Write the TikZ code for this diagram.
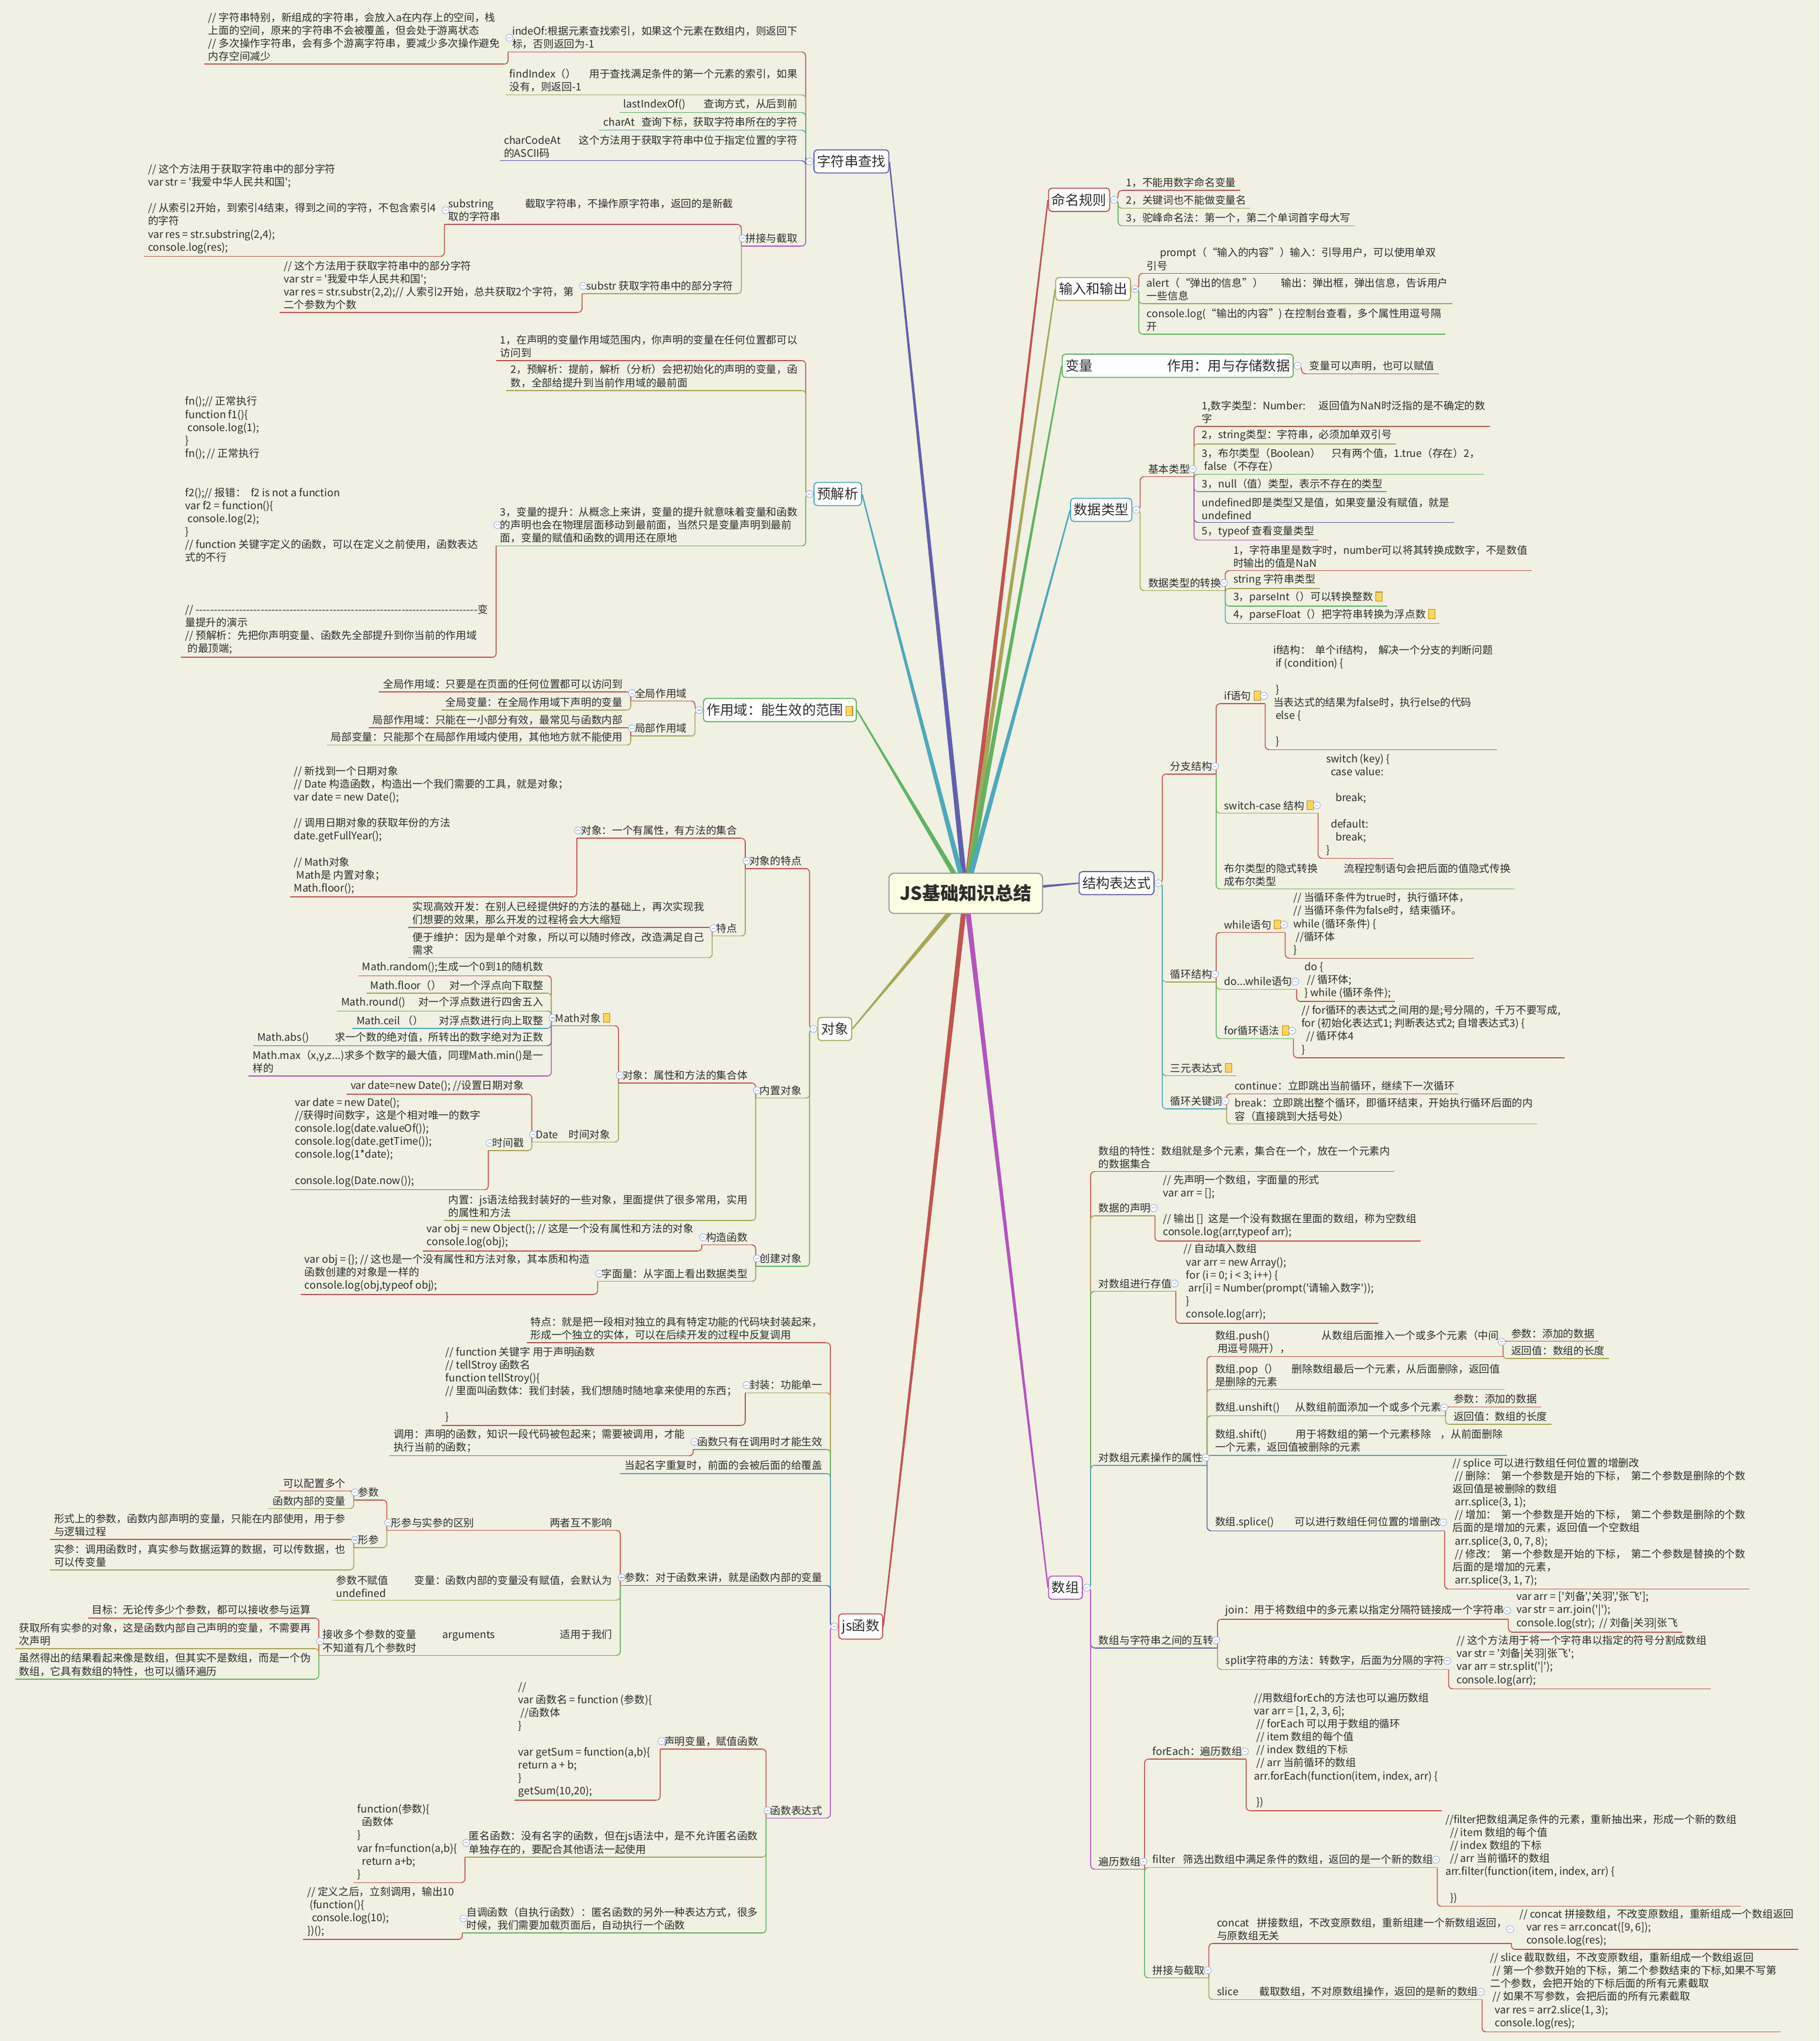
\documentclass[tikz,border=0pt]{standalone}
\usepackage{fontspec}
\setmainfont{Noto Sans CJK SC}[Ligatures=TeXOff]
\usetikzlibrary{calc}

\definecolor{paper}{RGB}{240,240,227}
\definecolor{ink}{RGB}{45,45,45}
\definecolor{lred}{RGB}{192,84,80}
\definecolor{lolive}{RGB}{168,165,88}
\definecolor{lgreen}{RGB}{98,178,98}
\definecolor{lteal}{RGB}{80,168,186}
\definecolor{lblue}{RGB}{96,96,172}
\definecolor{lpink}{RGB}{178,84,190}
\definecolor{foldblue}{RGB}{150,170,215}
\definecolor{noteyellow}{RGB}{250,215,90}
\definecolor{notebrown}{RGB}{190,140,40}
\definecolor{rootfill}{RGB}{252,252,226}
\definecolor{rootline}{RGB}{150,150,150}

\newcommand{\notemark}{\hspace{2pt}{\setlength{\fboxsep}{0pt}\setlength{\fboxrule}{0.5pt}\fcolorbox{notebrown}{noteyellow}{\rule{0pt}{6.5pt}\hspace{4.5pt}}}}

\tikzset{
  leaf/.style={font=\fontsize{8}{10}\selectfont, text=ink, align=left, inner xsep=3pt, inner ysep=2pt},
  leafL/.style={leaf, anchor=south east, xshift=-3pt},
  leafR/.style={leaf, anchor=south west, xshift=3pt},
  ul/.style={append after command={(\tikzlastnode.south west) edge[draw=#1, line width=0.7pt] (\tikzlastnode.south east)}},
  topic/.style={draw=#1, fill=white, rounded corners=2.5pt, line width=0.8pt, text=ink, font=\fontsize{10.5}{12}\selectfont, inner xsep=2.5pt, inner ysep=4pt},
  rootbox/.style={draw=rootline, fill=rootfill, rounded corners=4pt, line width=0.8pt, text=ink, font=\fontsize{14}{16}\selectfont\bfseries, minimum width=118pt, minimum height=31pt},
  link/.style={line width=0.7pt, rounded corners=3pt},
  fold/.pic={
    \draw[draw=foldblue, fill=white, line width=0.4pt] (0,0) circle (2.7pt);
    \draw[draw=foldblue, line width=0.5pt] (-1.4pt,0) -- (1.4pt,0);
  }
}

\begin{document}
\begin{tikzpicture}[x=1pt, y=-1pt]
\useasboundingbox (0,0) rectangle (1398,1568);
\fill[paper] (0,0) rectangle (1398,1568);
\coordinate (rc) at (742,686.3);

%字符串查找
\node[topic=lblue, anchor=west] (str) at (625,124) {字符串查找};
\node[leafL, ul=lred, xshift=-6pt] (str1) at (str.west |- 0,40) {indeOf:根据元素查找索引，如果这个元素在数组内，则返回下\\标，否则返回为-1};
\node[leafL, ul=lred] (str1a) at (str1.south west |- 0,49.3) {// 字符串特别，新组成的字符串，会放入a在内存上的空间，栈\\上面的空间，原来的字符串不会被覆盖，但会处于游离状态\\// 多次操作字符串，会有多个游离字符串，要减少多次操作避免\\内存空间减少};
\node[leafL, ul=lolive, xshift=-6pt] (str2) at (str.west |- 0,72.8) {findIndex（）\hspace{10pt}用于查找满足条件的第一个元素的索引，如果\\没有，则返回-1};
\node[leafL, ul=lgreen, xshift=-6pt] (str3) at (str.west |- 0,86.5) {lastIndexOf()\hspace{14pt}查询方式，从后到前};
\node[leafL, ul=lteal, xshift=-6pt] (str4) at (str.west |- 0,100) {charAt\hspace{5pt}查询下标，获取字符串所在的字符};
\node[leafL, ul=lblue, xshift=-6pt] (str5) at (str.west |- 0,123.5) {charCodeAt\hspace{14pt}这个方法用于获取字符串中位于指定位置的字符\\的ASCII码};
\node[leafL, ul=lpink, xshift=-6pt] (str6) at (str.west |- 0,189) {拼接与截取};
\node[leafL, ul=lred] (str6a) at (str6.south west |- 0,172.4) {substring\hspace{24pt}截取字符串，不操作原字符串，返回的是新截\\取的字符串};
\node[leafL, ul=lred] (str6a1) at (str6a.south west |- 0,197) {// 这个方法用于获取字符串中的部分字符\\var str = '我爱中华人民共和国';\\[10pt]// 从索引2开始，到索引4结束，得到之间的字符，不包含索引4\\的字符\\var res = str.substring(2,4);\\console.log(res);};
\node[leafL, ul=lolive] (str6b) at (str6.south west |- 0,225.6) {substr 获取字符串中的部分字符};
\node[leafL, ul=lred] (str6b1) at (str6b.south west |- 0,240) {// 这个方法用于获取字符串中的部分字符\\var str = '我爱中华人民共和国';\\var res = str.substr(2,2);// 人索引2开始，总共获取2个字符，第\\二个参数为个数};
\foreach \c/\k in {str1/lred, str2/lolive, str3/lgreen, str4/lteal, str5/lblue, str6/lpink}
  \draw[link, draw=\k] (str.west) -- ++(-6,0) |- (\c.south east);
\draw[link, draw=lred] (str1.south west) |- (str1a.south east);
\foreach \c/\k in {str6a/lred, str6b/lolive}
  \draw[link, draw=\k] (str6.south west) |- (\c.south east);
\draw[link, draw=lred] (str6a.south west) |- (str6a1.south east);
\draw[link, draw=lred] (str6b.south west) |- (str6b1.south east);

%预解析
\node[topic=lteal, anchor=west] (pre) at (625,379.5) {预解析};
\node[leafL, ul=lred, xshift=-6pt] (pre1) at (pre.west |- 0,277) {1，在声明的变量作用域范围内，你声明的变量在任何位置都可以\\访问到};
\node[leafL, ul=lolive, xshift=-6pt] (pre2) at (pre.west |- 0,300) {2，预解析：提前，解析（分析）会把初始化的声明的变量，函\\数，全部给提升到当前作用域的最前面};
\node[leafL, ul=lgreen, xshift=-6pt] (pre3) at (pre.west |- 0,419.4) {3，变量的提升：从概念上来讲，变量的提升就意味着变量和函数\\的声明也会在物理层面移动到最前面，当然只是变量声明到最前\\面，变量的赋值和函数的调用还在原地};
\node[leafL, ul=lred] (pre3a) at (pre3.south west |- 0,505) {fn();// 正常执行\\function f1()\{\\~console.log(1);\\\}\\fn(); // 正常执行\\[20pt]f2();// 报错：~~f2 is not a function\\var f2 = function()\{\\~console.log(2);\\\}\\// function 关键字定义的函数，可以在定义之前使用，函数表达\\式的不行\\[30pt]// ------------------------------------------------------------------------------变\\量提升的演示\\// 预解析：先把你声明变量、函数先全部提升到你当前的作用域\\~的最顶端;};
\foreach \c/\k in {pre1/lred, pre2/lolive, pre3/lgreen}
  \draw[link, draw=\k] (pre.west) -- ++(-6,0) |- (\c.south east);
\draw[link, draw=lred] (pre3.south west) |- (pre3a.south east);

%作用域
\node[topic=lgreen, anchor=west] (scope) at (540,545.5) {作用域：能生效的范围\notemark};
\node[leafL, ul=lred, xshift=-6pt] (scope1) at (scope.west |- 0,538.5) {全局作用域};
\node[leafL, ul=lred] (scope1a) at (scope1.south west |- 0,531.6) {全局作用域：只要是在页面的任何位置都可以访问到};
\node[leafL, ul=lolive] (scope1b) at (scope1.south west |- 0,545.4) {全局变量：在全局作用域下声明的变量};
\node[leafL, ul=lolive, xshift=-6pt] (scope2) at (scope.west |- 0,565.5) {局部作用域};
\node[leafL, ul=lred] (scope2a) at (scope2.south west |- 0,559) {局部作用域：只能在一小部分有效，最常见与函数内部};
\node[leafL, ul=lolive] (scope2b) at (scope2.south west |- 0,572.4) {局部变量：只能那个在局部作用域内使用，其他地方就不能使用};
\foreach \c/\k in {scope1/lred, scope2/lolive}
  \draw[link, draw=\k] (scope.west) -- ++(-6,0) |- (\c.south east);
\foreach \c/\k in {scope1a/lred, scope1b/lolive}
  \draw[link, draw=\k] (scope1.south west) |- (\c.south east);
\foreach \c/\k in {scope2a/lred, scope2b/lolive}
  \draw[link, draw=\k] (scope2.south west) |- (\c.south east);

%对象
\node[topic=lolive, anchor=west] (obj) at (628,790.5) {对象};
\node[leafL, ul=lred, xshift=-6pt] (obj1) at (obj.west |- 0,667.3) {对象的特点};
\node[leafL, ul=lred] (obj1a) at (obj1.south west |- 0,644) {对象：一个有属性，有方法的集合};
\node[leafL, ul=lred] (obj1a1) at (obj1a.south west |- 0,689) {// 新找到一个日期对象\\// Date 构造函数，构造出一个我们需要的工具，就是对象；\\var date = new Date();\\[10pt]// 调用日期对象的获取年份的方法\\date.getFullYear();\\[10pt]// Math对象\\~Math是 内置对象；\\Math.floor();};
\node[leafL, ul=lolive] (obj1b) at (obj1.south west |- 0,719) {特点};
\node[leafL, ul=lred] (obj1b1) at (obj1b.south west |- 0,712.5) {实现高效开发：在别人已经提供好的方法的基础上，再次实现我\\们想要的效果，那么开发的过程将会大大缩短};
\node[leafL, ul=lolive] (obj1b2) at (obj1b.south west |- 0,735.8) {便于维护：因为是单个对象，所以可以随时修改，改造满足自己\\需求};
\node[leafL, ul=lolive, xshift=-6pt] (obj2) at (obj.west |- 0,843.6) {内置对象};
\node[leafL, ul=lred] (obj2a) at (obj2.south west |- 0,832) {对象：属性和方法的集合体};
\node[leafL, ul=lred] (math) at (obj2a.south west |- 0,788) {Math对象\notemark};
\node[leafL, ul=lred] (math1) at (math.south west |- 0,749.6) {Math.random();生成一个0到1的随机数};
\node[leafL, ul=lolive] (math2) at (math.south west |- 0,763) {Math.floor（）\hspace{6pt}对一个浮点向下取整};
\node[leafL, ul=lgreen] (math3) at (math.south west |- 0,776.7) {Math.round()\hspace{10pt}对一个浮点数进行四舍五入};
\node[leafL, ul=lteal] (math4) at (math.south west |- 0,790) {Math.ceil （）\hspace{12pt}对浮点数进行向上取整};
\node[leafL, ul=lblue] (math5) at (math.south west |- 0,803.4) {Math.abs()\hspace{20pt}求一个数的绝对值，所转出的数字绝对为正数};
\node[leafL, ul=lpink] (math6) at (math.south west |- 0,826.7) {Math.max（x,y,z...)求多个数字的最大值，同理Math.min()是一\\样的};
\node[leafL, ul=lolive] (date) at (obj2a.south west |- 0,877.4) {Date\hspace{8pt}时间对象};
\node[leafL, ul=lred] (date1) at (date.south west |- 0,840.5) {var date=new Date(); //设置日期对象};
\node[leafL, ul=lolive] (date2) at (date.south west |- 0,884) {时间戳};
\node[leafL, ul=lred] (date2a) at (date2.south west |- 0,914) {var date = new Date();\\//获得时间数字，这是个相对唯一的数字\\console.log(date.valueOf());\\console.log(date.getTime());\\console.log(1*date);\\[10pt]console.log(Date.now());};
\node[leafL, ul=lolive] (obj2b) at (obj2.south west |- 0,937.7) {内置：js语法给我封装好的一些对象，里面提供了很多常用，实用\\的属性和方法};
\node[leafL, ul=lgreen, xshift=-6pt] (obj3) at (obj.west |- 0,972.8) {创建对象};
\node[leafL, ul=lred] (obj3a) at (obj3.south west |- 0,956.4) {构造函数};
\node[leafL, ul=lred] (obj3a1) at (obj3a.south west |- 0,961) {var obj = new Object(); // 这是一个没有属性和方法的对象\\console.log(obj);};
\node[leafL, ul=lolive] (obj3b) at (obj3.south west |- 0,984.4) {字面量：从字面上看出数据类型};
\node[leafL, ul=lred] (obj3b1) at (obj3b.south west |- 0,994.4) {var obj = \{\}; // 这也是一个没有属性和方法对象，其本质和构造\\函数创建的对象是一样的\\console.log(obj,typeof obj);};
\foreach \c/\k in {obj1/lred, obj2/lolive, obj3/lgreen}
  \draw[link, draw=\k] (obj.west) -- ++(-6,0) |- (\c.south east);
\foreach \c/\k in {obj1a/lred, obj1b/lolive}
  \draw[link, draw=\k] (obj1.south west) |- (\c.south east);
\draw[link, draw=lred] (obj1a.south west) |- (obj1a1.south east);
\foreach \c/\k in {obj1b1/lred, obj1b2/lolive}
  \draw[link, draw=\k] (obj1b.south west) |- (\c.south east);
\foreach \c/\k in {obj2a/lred, obj2b/lolive}
  \draw[link, draw=\k] (obj2.south west) |- (\c.south east);
\foreach \c/\k in {math/lred, date/lolive}
  \draw[link, draw=\k] (obj2a.south west) |- (\c.south east);
\foreach \c/\k in {math1/lred, math2/lolive, math3/lgreen, math4/lteal, math5/lblue, math6/lpink}
  \draw[link, draw=\k] (math.south west) |- (\c.south east);
\foreach \c/\k in {date1/lred, date2/lolive}
  \draw[link, draw=\k] (date.south west) |- (\c.south east);
\draw[link, draw=lred] (date2.south west) |- (date2a.south east);
\foreach \c/\k in {obj3a/lred, obj3b/lolive}
  \draw[link, draw=\k] (obj3.south west) |- (\c.south east);
\draw[link, draw=lred] (obj3a.south west) |- (obj3a1.south east);
\draw[link, draw=lred] (obj3b.south west) |- (obj3b1.south east);

%js函数
\node[topic=lred, anchor=west] (func) at (644,1249.5) {js函数};
\node[leafL, ul=lred, xshift=-6pt] (func1) at (func.west |- 0,1031.6) {特点：就是把一段相对独立的具有特定功能的代码块封装起来，\\形成一个独立的实体，可以在后续开发的过程中反复调用};
\node[leafL, ul=lolive, xshift=-6pt] (func2) at (func.west |- 0,1070) {封装：功能单一};
\node[leafL, ul=lred] (func2a) at (func2.south west |- 0,1095) {// function 关键字 用于声明函数\\// tellStroy 函数名\\function tellStroy()\{\\// 里面叫函数体：我们封装，我们想随时随地拿来使用的东西；\\[10pt]\}};
\node[leafL, ul=lgreen, xshift=-6pt] (func3) at (func.west |- 0,1113.5) {函数只有在调用时才能生效};
\node[leafL, ul=lred] (func3a) at (func3.south west |- 0,1118.4) {调用：声明的函数，知识一段代码被包起来；需要被调用，才能\\执行当前的函数；};
\node[leafL, ul=lteal, xshift=-6pt] (func4) at (func.west |- 0,1132) {当起名字重复时，前面的会被后面的给覆盖};
\node[leafL, ul=lblue, xshift=-6pt] (func5) at (func.west |- 0,1218) {参数：对于函数来讲，就是函数内部的变量};
\node[leafL, ul=lred] (func5a) at (func5.south west |- 0,1175.7) {形参与实参的区别\hspace{58pt}两者互不影响};
\node[leafL, ul=lred] (func5a1) at (func5a.south west |- 0,1152.4) {参数};
\node[leafL, ul=lred] (func5a1a) at (func5a1.south west |- 0,1145.5) {可以配置多个};
\node[leafL, ul=lolive] (func5a1b) at (func5a1.south west |- 0,1159) {函数内部的变量};
\node[leafL, ul=lolive] (func5a2) at (func5a.south west |- 0,1189) {形参};
\node[leafL, ul=lred] (func5a2a) at (func5a2.south west |- 0,1182.7) {形式上的参数，函数内部声明的变量，只能在内部使用，用于参\\与逻辑过程};
\node[leafL, ul=lolive] (func5a2b) at (func5a2.south west |- 0,1206) {实参：调用函数时，真实参与数据运算的数据，可以传数据，也\\可以传变量};
\node[leafL, ul=lolive] (func5b) at (func5.south west |- 0,1229.3) {参数不赋值\hspace{20pt}变量：函数内部的变量没有赋值，会默认为\\undefined};
\node[leafL, ul=lgreen] (func5c) at (func5.south west |- 0,1271.7) {接收多个参数的变量\hspace{20pt}arguments\hspace{50pt}适用于我们\\不知道有几个参数时};
\node[leafL, ul=lred] (func5c1) at (func5c.south west |- 0,1243) {目标：无论传多少个参数，都可以接收参与运算};
\node[leafL, ul=lolive] (func5c2) at (func5c.south west |- 0,1266.5) {获取所有实参的对象，这是函数内部自己声明的变量，不需要再\\次声明};
\node[leafL, ul=lgreen] (func5c3) at (func5c.south west |- 0,1290) {虽然得出的结果看起来像是数组，但其实不是数组，而是一个伪\\数组，它具有数组的特性，也可以循环遍历};
\node[leafL, ul=lpink, xshift=-6pt] (func6) at (func.west |- 0,1396.7) {函数表达式};
\node[leafL, ul=lred] (func6a) at (func6.south west |- 0,1343.7) {声明变量，赋值函数};
\node[leafL, ul=lred] (func6a1) at (func6a.south west |- 0,1383) {//\\var 函数名 = function (参数)\{\\~//函数体\\\}\\[10pt]var getSum = function(a,b)\{\\return a + b;\\\}\\getSum(10,20);};
\node[leafL, ul=lolive] (func6b) at (func6.south west |- 0,1426.7) {匿名函数：没有名字的函数，但在js语法中，是不允许匿名函数\\单独存在的，要配合其他语法一起使用};
\node[leafL, ul=lred] (func6b1) at (func6b.south west |- 0,1446.3) {function(参数)\{\\~~函数体\\\}\\var fn=function(a,b)\{\\~~return a+b;\\\}};
\node[leafL, ul=lgreen] (func6c) at (func6.south west |- 0,1485) {自调函数（自执行函数）：匿名函数的另外一种表达方式，很多\\时候，我们需要加载页面后，自动执行一个函数};
\node[leafL, ul=lred] (func6c1) at (func6c.south west |- 0,1490) {// 定义之后，立刻调用，输出10\\~(function()\{\\~~console.log(10);\\\})();};
\foreach \c/\k in {func1/lred, func2/lolive, func3/lgreen, func4/lteal, func5/lblue, func6/lpink}
  \draw[link, draw=\k] (func.west) -- ++(-6,0) |- (\c.south east);
\draw[link, draw=lred] (func2.south west) |- (func2a.south east);
\draw[link, draw=lred] (func3.south west) |- (func3a.south east);
\foreach \c/\k in {func5a/lred, func5b/lolive, func5c/lgreen}
  \draw[link, draw=\k] (func5.south west) |- (\c.south east);
\foreach \c/\k in {func5a1/lred, func5a2/lolive}
  \draw[link, draw=\k] (func5a.south west) |- (\c.south east);
\foreach \c/\k in {func5a1a/lred, func5a1b/lolive}
  \draw[link, draw=\k] (func5a1.south west) |- (\c.south east);
\foreach \c/\k in {func5a2a/lred, func5a2b/lolive}
  \draw[link, draw=\k] (func5a2.south west) |- (\c.south east);
\foreach \c/\k in {func5c1/lred, func5c2/lolive, func5c3/lgreen}
  \draw[link, draw=\k] (func5c.south west) |- (\c.south east);
\foreach \c/\k in {func6a/lred, func6b/lolive, func6c/lgreen}
  \draw[link, draw=\k] (func6.south west) |- (\c.south east);
\draw[link, draw=lred] (func6a.south west) |- (func6a1.south east);
\draw[link, draw=lred] (func6b.south west) |- (func6b1.south east);
\draw[link, draw=lred] (func6c.south west) |- (func6c1.south east);

%命名规则
\node[topic=lred, anchor=east] (name) at (853,153.5) {命名规则};
\node[leafR, ul=lred, xshift=6pt] (name1) at (name.east |- 0,146.3) {1，不能用数字命名变量};
\node[leafR, ul=lolive, xshift=6pt] (name2) at (name.east |- 0,160) {2，关键词也不能做变量名};
\node[leafR, ul=lgreen, xshift=6pt] (name3) at (name.east |- 0,173.4) {3，驼峰命名法：第一个，第二个单词首字母大写};
\foreach \c/\k in {name1/lred, name2/lolive, name3/lgreen}
  \draw[link, draw=\k] (name.east) -- ++(6,0) |- (\c.south west);

%输入和输出
\node[topic=lolive, anchor=east] (io) at (869,222) {输入和输出};
\node[leafR, ul=lred, xshift=6pt] (io1) at (io.east |- 0,210) {\hspace{10pt}prompt（“输入的内容”）输入：引导用户，可以使用单双\\引号};
\node[leafR, ul=lolive, xshift=6pt] (io2) at (io.east |- 0,233.3) {alert（“弹出的信息”）\hspace{14pt}输出：弹出框，弹出信息，告诉用户\\一些信息};
\node[leafR, ul=lgreen, xshift=6pt] (io3) at (io.east |- 0,256.8) {console.log(“输出的内容”) 在控制台查看，多个属性用逗号隔\\开};
\foreach \c/\k in {io1/lred, io2/lolive, io3/lgreen}
  \draw[link, draw=\k] (io.east) -- ++(6,0) |- (\c.south west);

%变量
\node[topic=lgreen, anchor=east] (var) at (994,281) {变量\hspace{57pt}作用：用与存储数据};
\node[leafR, ul=lred, xshift=6pt] (var1) at (var.east |- 0,287.2) {变量可以声明，也可以赋值};
\draw[link, draw=lred] (var.east) -- ++(6,0) |- (var1.south west);

%数据类型
\node[topic=lteal, anchor=east] (type) at (870,391.7) {数据类型};
\node[leafR, ul=lred, xshift=6pt] (type1) at (type.east |- 0,366.2) {基本类型};
\node[leafR, ul=lred] (type1a) at (type1.south east |- 0,327.5) {1,数字类型：Number:\hspace{10pt}返回值为NaN时泛指的是不确定的数\\字};
\node[leafR, ul=lolive] (type1b) at (type1.south east |- 0,341) {2，string类型：字符串，必须加单双引号};
\node[leafR, ul=lgreen] (type1c) at (type1.south east |- 0,364.3) {3，布尔类型（Boolean）\hspace{8pt}只有两个值，1.true（存在）2，\\~false（不存在）};
\node[leafR, ul=lteal] (type1d) at (type1.south east |- 0,377.7) {3，null（值）类型，表示不存在的类型};
\node[leafR, ul=lblue] (type1e) at (type1.south east |- 0,401.3) {undefined即是类型又是值，如果变量没有赋值，就是\\undefined};
\node[leafR, ul=lpink] (type1f) at (type1.south east |- 0,414.8) {5，typeof 查看变量类型};
\node[leafR, ul=lolive, xshift=6pt] (type2) at (type.east |- 0,453.7) {数据类型的转换};
\node[leafR, ul=lred] (type2a) at (type2.south east |- 0,438.4) {1，字符串里是数字时，number可以将其转换成数字，不是数值\\时输出的值是NaN};
\node[leafR, ul=lolive] (type2b) at (type2.south east |- 0,452) {string 字符串类型};
\node[leafR, ul=lgreen] (type2c) at (type2.south east |- 0,465.6) {3，parseInt（）可以转换整数\notemark};
\node[leafR, ul=lteal] (type2d) at (type2.south east |- 0,479) {4，parseFloat（）把字符串转换为浮点数\notemark};
\foreach \c/\k in {type1/lred, type2/lolive}
  \draw[link, draw=\k] (type.east) -- ++(6,0) |- (\c.south west);
\foreach \c/\k in {type1a/lred, type1b/lolive, type1c/lgreen, type1d/lteal, type1e/lblue, type1f/lpink}
  \draw[link, draw=\k] (type1.south east) |- (\c.south west);
\foreach \c/\k in {type2a/lred, type2b/lolive, type2c/lgreen, type2d/lteal}
  \draw[link, draw=\k] (type2.south east) |- (\c.south west);

%结构表达式
\node[topic=lblue, anchor=east] (ctrl) at (887,678.5) {结构表达式};
\node[leafR, ul=lred, xshift=6pt] (ctrl1) at (ctrl.east |- 0,594.6) {分支结构};
\node[leafR, ul=lred] (ctrl1a) at (ctrl1.south east |- 0,540.6) {if语句\notemark};
\node[leafR, ul=lred] (ctrl1a1) at (ctrl1a.south east |- 0,576) {if结构：~~单个if结构，~~解决一个分支的判断问题\\~if (condition) \{\\[10pt]~\}\\当表达式的结果为false时，执行else的代码\\~else \{\\[10pt]~\}};
\node[leafR, ul=lolive] (ctrl1b) at (ctrl1.south east |- 0,624.7) {switch-case 结构\notemark};
\node[leafR, ul=lred] (ctrl1b1) at (ctrl1b.south east |- 0,659.4) {switch (key) \{\\~~case value:\\[10pt]~~~~break;\\[10pt]~~default:\\~~~~break;\\\}};
\node[leafR, ul=lgreen] (ctrl1c) at (ctrl1.south east |- 0,683) {布尔类型的隐式转换\hspace{20pt}流程控制语句会把后面的值隐式传换\\成布尔类型};
\node[leafR, ul=lolive, xshift=6pt] (ctrl2) at (ctrl.east |- 0,754.4) {循环结构};
\node[leafR, ul=lred] (ctrl2a) at (ctrl2.south east |- 0,716.4) {while语句\notemark};
\node[leafR, ul=lred] (ctrl2a1) at (ctrl2a.south east |- 0,736.1) {// 当循环条件为true时，执行循环体，\\// 当循环条件为false时，结束循环。\\while (循环条件) \{\\~//循环体\\\}};
\node[leafR, ul=lolive] (ctrl2b) at (ctrl2.south east |- 0,760) {do...while语句};
\node[leafR, ul=lred] (ctrl2b1) at (ctrl2b.south east |- 0,769.4) {do \{\\~// 循环体;\\\} while (循环条件);};
\node[leafR, ul=lgreen] (ctrl2c) at (ctrl2.south east |- 0,797.9) {for循环语法\notemark};
\node[leafR, ul=lred] (ctrl2c1) at (ctrl2c.south east |- 0,812.6) {// for循环的表达式之间用的是;号分隔的，千万不要写成,\\for (初始化表达式1; 判断表达式2; 自增表达式3) \{\\~~// 循环体4\\\}};
\node[leafR, ul=lgreen, xshift=6pt] (ctrl3) at (ctrl.east |- 0,826.4) {三元表达式\notemark};
\node[leafR, ul=lteal, xshift=6pt] (ctrl4) at (ctrl.east |- 0,851.8) {循环关键词};
\node[leafR, ul=lred] (ctrl4a) at (ctrl4.south east |- 0,840.3) {continue：立即跳出当前循环，继续下一次循环};
\node[leafR, ul=lolive] (ctrl4b) at (ctrl4.south east |- 0,863.5) {break：立即跳出整个循环，即循环结束，开始执行循环后面的内\\容（直接跳到大括号处）};
\foreach \c/\k in {ctrl1/lred, ctrl2/lolive, ctrl3/lgreen, ctrl4/lteal}
  \draw[link, draw=\k] (ctrl.east) -- ++(6,0) |- (\c.south west);
\foreach \c/\k in {ctrl1a/lred, ctrl1b/lolive, ctrl1c/lgreen}
  \draw[link, draw=\k] (ctrl1.south east) |- (\c.south west);
\draw[link, draw=lred] (ctrl1a.south east) |- (ctrl1a1.south west);
\draw[link, draw=lred] (ctrl1b.south east) |- (ctrl1b1.south west);
\foreach \c/\k in {ctrl2a/lred, ctrl2b/lolive, ctrl2c/lgreen}
  \draw[link, draw=\k] (ctrl2.south east) |- (\c.south west);
\draw[link, draw=lred] (ctrl2a.south east) |- (ctrl2a1.south west);
\draw[link, draw=lred] (ctrl2b.south east) |- (ctrl2b1.south west);
\draw[link, draw=lred] (ctrl2c.south east) |- (ctrl2c1.south west);
\foreach \c/\k in {ctrl4a/lred, ctrl4b/lolive}
  \draw[link, draw=\k] (ctrl4.south east) |- (\c.south west);

%数组
\node[topic=lpink, anchor=east] (arr) at (832,1219.7) {数组};
\node[leafR, ul=lred, xshift=6pt] (arr1) at (arr.east |- 0,900) {数组的特性：数组就是多个元素，集合在一个，放在一个元素内\\的数据集合};
\node[leafR, ul=lolive, xshift=6pt] (arr2) at (arr.east |- 0,934) {数据的声明};
\node[leafR, ul=lred] (arr2a) at (arr2.south east |- 0,953.5) {// 先声明一个数组，字面量的形式\\var arr = [];\\[10pt]// 输出 []~~这是一个没有数据在里面的数组，称为空数组\\console.log(arr,typeof arr);};
\node[leafR, ul=lgreen, xshift=6pt] (arr3) at (arr.east |- 0,992) {对数组进行存值};
\node[leafR, ul=lred] (arr3a) at (arr3.south east |- 0,1016.6) {// 自动填入数组\\~var arr = new Array();\\~for (i = 0; i < 3; i++) \{\\~~arr[i] = Number(prompt('请输入数字'));\\~\}\\~console.log(arr);};
\node[leafR, ul=lteal, xshift=6pt] (arr4) at (arr.east |- 0,1125.7) {对数组元素操作的属性};
\node[leafR, ul=lred] (arr4a) at (arr4.south east |- 0,1042) {数组.push()\hspace{40pt}从数组后面推入一个或多个元素（中间\\~用逗号隔开），};
\node[leafR, ul=lred] (arr4a1) at (arr4a.south east |- 0,1030.3) {参数：添加的数据};
\node[leafR, ul=lolive] (arr4a2) at (arr4a.south east |- 0,1043.7) {返回值：数组的长度};
\node[leafR, ul=lolive] (arr4b) at (arr4.south east |- 0,1067.4) {数组.pop（）\hspace{10pt}删除数组最后一个元素，从后面删除，返回值\\是删除的元素};
\node[leafR, ul=lgreen] (arr4c) at (arr4.south east |- 0,1087.7) {数组.unshift()\hspace{12pt}从数组前面添加一个或多个元素};
\node[leafR, ul=lred] (arr4c1) at (arr4c.south east |- 0,1080.8) {参数：添加的数据};
\node[leafR, ul=lolive] (arr4c2) at (arr4c.south east |- 0,1094.3) {返回值：数组的长度};
\node[leafR, ul=lteal] (arr4d) at (arr4.south east |- 0,1118) {数组.shift()\hspace{22pt}用于将数组的第一个元素移除\hspace{7pt}，从前面删除\\一个元素，返回值被删除的元素};
\node[leafR, ul=lblue] (arr4e) at (arr4.south east |- 0,1176) {数组.splice()\hspace{16pt}可以进行数组任何位置的增删改};
\node[leafR, ul=lred] (arr4e1) at (arr4e.south east |- 0,1220.8) {// splice 可以进行数组任何位置的增删改\\~// 删除：~~第一个参数是开始的下标，~~第二个参数是删除的个数\\返回值是被删除的数组\\~arr.splice(3, 1);\\~// 增加：~~第一个参数是开始的下标，~~第二个参数是删除的个数\\后面的是增加的元素，返回值一个空数组\\~arr.splice(3, 0, 7, 8);\\~// 修改：~~第一个参数是开始的下标，~~第二个参数是替换的个数\\后面的是增加的元素，\\~arr.splice(3, 1, 7);};
\node[leafR, ul=lblue, xshift=6pt] (arr5) at (arr.east |- 0,1266) {数组与字符串之间的互转};
\node[leafR, ul=lred] (arr5a) at (arr5.south east |- 0,1244) {join：用于将数组中的多元素以指定分隔符链接成一个字符串};
\node[leafR, ul=lred] (arr5a1) at (arr5a.south east |- 0,1253.9) {var arr = ['刘备','关羽','张飞'];\\var str = arr.join('|');\\console.log(str);~~// 刘备|关羽|张飞};
\node[leafR, ul=lolive] (arr5b) at (arr5.south east |- 0,1282.5) {split字符串的方法：转数字，后面为分隔的字符};
\node[leafR, ul=lred] (arr5b1) at (arr5b.south east |- 0,1297.4) {// 这个方法用于将一个字符串以指定的符号分割成数组\\var str = '刘备|关羽|张飞';\\var arr = str.split('|');\\console.log(arr);};
\node[leafR, ul=lpink, xshift=6pt] (arr6) at (arr.east |- 0,1436) {遍历数组};
\node[leafR, ul=lred] (arr6a) at (arr6.south east |- 0,1351.4) {forEach：遍历数组};
\node[leafR, ul=lred] (arr6a1) at (arr6a.south east |- 0,1391) {//用数组forEch的方法也可以遍历数组\\var arr = [1, 2, 3, 6];\\~// forEach 可以用于数组的循环\\~// item 数组的每个值\\~// index 数组的下标\\~// arr 当前循环的数组\\arr.forEach(function(item, index, arr) \{\\[10pt]~\})};
\node[leafR, ul=lolive] (arr6b) at (arr6.south east |- 0,1434.7) {filter\hspace{6pt}筛选出数组中满足条件的数组，返回的是一个新的数组};
\node[leafR, ul=lred] (arr6b1) at (arr6b.south east |- 0,1464.5) {//filter把数组满足条件的元素，重新抽出来，形成一个新的数组\\~~// item 数组的每个值\\~~// index 数组的下标\\~~// arr 当前循环的数组\\arr.filter(function(item, index, arr) \{\\[10pt]~~\})};
\node[leafR, ul=lgreen] (arr6c) at (arr6.south east |- 0,1519.5) {拼接与截取};
\node[leafR, ul=lred] (arr6c1) at (arr6c.south east |- 0,1493) {concat\hspace{6pt}拼接数组，不改变原数组，重新组建一个新数组返回，\\与原数组无关};
\node[leafR, ul=lred] (arr6c1a) at (arr6c1.south east |- 0,1497.7) {// concat 拼接数组，不改变原数组，重新组成一个数组返回\\~~~var res = arr.concat([9, 6]);\\~~~console.log(res);};
\node[leafR, ul=lolive] (arr6c2) at (arr6c.south east |- 0,1536.2) {slice\hspace{16pt}截取数组，不对原数组操作，返回的是新的数组};
\node[leafR, ul=lred] (arr6c2a) at (arr6c2.south east |- 0,1561) {// slice 截取数组，不改变原数组，重新组成一个数组返回\\~// 第一个参数开始的下标，第二个参数结束的下标,如果不写第\\二个参数，会把开始的下标后面的所有元素截取\\~// 如果不写参数，会把后面的所有元素截取\\~~var res = arr2.slice(1, 3);\\~~console.log(res);};
\foreach \c/\k in {arr1/lred, arr2/lolive, arr3/lgreen, arr4/lteal, arr5/lblue, arr6/lpink}
  \draw[link, draw=\k] (arr.east) -- ++(6,0) |- (\c.south west);
\draw[link, draw=lred] (arr2.south east) |- (arr2a.south west);
\draw[link, draw=lred] (arr3.south east) |- (arr3a.south west);
\foreach \c/\k in {arr4a/lred, arr4b/lolive, arr4c/lgreen, arr4d/lteal, arr4e/lblue}
  \draw[link, draw=\k] (arr4.south east) |- (\c.south west);
\foreach \c/\k in {arr4a1/lred, arr4a2/lolive}
  \draw[link, draw=\k] (arr4a.south east) |- (\c.south west);
\foreach \c/\k in {arr4c1/lred, arr4c2/lolive}
  \draw[link, draw=\k] (arr4c.south east) |- (\c.south west);
\draw[link, draw=lred] (arr4e.south east) |- (arr4e1.south west);
\foreach \c/\k in {arr5a/lred, arr5b/lolive}
  \draw[link, draw=\k] (arr5.south east) |- (\c.south west);
\draw[link, draw=lred] (arr5a.south east) |- (arr5a1.south west);
\draw[link, draw=lred] (arr5b.south east) |- (arr5b1.south west);
\foreach \c/\k in {arr6a/lred, arr6b/lolive, arr6c/lgreen}
  \draw[link, draw=\k] (arr6.south east) |- (\c.south west);
\draw[link, draw=lred] (arr6a.south east) |- (arr6a1.south west);
\draw[link, draw=lred] (arr6b.south east) |- (arr6b1.south west);
\foreach \c/\k in {arr6c1/lred, arr6c2/lolive}
  \draw[link, draw=\k] (arr6c.south east) |- (\c.south west);
\draw[link, draw=lred] (arr6c1.south east) |- (arr6c1a.south west);
\draw[link, draw=lred] (arr6c2.south east) |- (arr6c2a.south west);

%fold marks
\foreach \p in {str, pre, scope, obj, func}
  \pic at ([xshift=-3pt]\p.west) {fold};
\foreach \p in {name, io, var, type, ctrl, arr}
  \pic at ([xshift=3pt]\p.east) {fold};
\foreach \p in {str1, str6, str6a, str6b, pre3, scope1, scope2, obj1, obj1a, obj1b, obj2, obj2a, math, date, date2, obj3, obj3a, obj3b, func2, func3, func5, func5a, func5a1, func5a2, func5c, func6, func6a, func6b, func6c}
  \pic at ([xshift=1pt]\p.west) {fold};
\foreach \p in {type1, type2, ctrl1, ctrl1a, ctrl1b, ctrl2, ctrl2a, ctrl2b, ctrl2c, ctrl4, arr2, arr3, arr4, arr4a, arr4c, arr4e, arr5, arr5a, arr5b, arr6, arr6a, arr6b, arr6c, arr6c1, arr6c2}
  \pic at ([xshift=-1pt]\p.east) {fold};

%main branches
\foreach \t/\a/\k in {str/east/lblue, pre/east/lteal, scope/east/lgreen, obj/east/lolive, func/east/lred, name/west/lred, io/west/lolive, var/west/lgreen, type/west/lteal, ctrl/west/lblue, arr/west/lpink}
  \fill[fill=\k] ($(rc)!2pt!90:(\t.\a)$) -- ($(\t.\a)!0.5pt!-90:(rc)$) -- ($(\t.\a)!0.5pt!90:(rc)$) -- ($(rc)!2pt!-90:(\t.\a)$) -- cycle;

%root
\node[rootbox] (root) at (rc) {JS基础知识总结};
\end{tikzpicture}
\end{document}
